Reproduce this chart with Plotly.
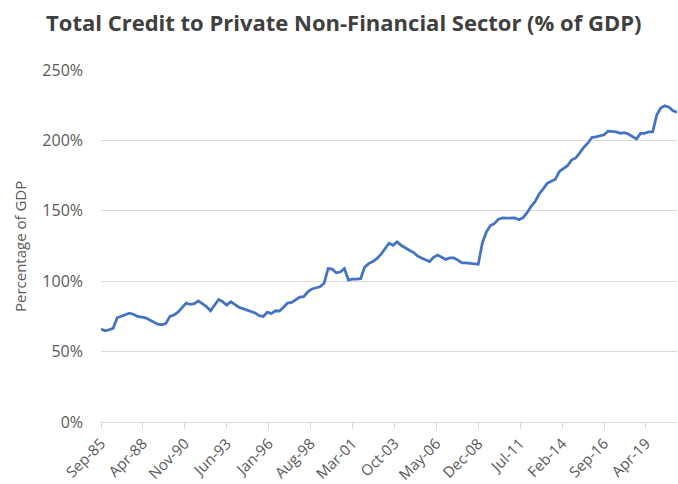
import pandas as pd
import plotly.graph_objects as go

title_text = "Total Credit to Private Non-Financial Sector (% of GDP)"
y_title = "Percentage of GDP"

# Quarterly observations starting Sep-1985
start_date = "1985-09-01"
credit_pct_gdp = [
    66, 64.8, 65.5, 66.5, 74, 75, 76, 77.3, 76.5, 75,
    74.5, 74, 72.5, 71, 69.5, 69, 70, 75, 76, 78,
    81.5, 84.5, 83.5, 84, 86, 84, 82, 79, 83.5, 87,
    85.5, 83, 85.5, 83.5, 81.5, 80.5, 79.5, 78.5, 77.5, 75.5,
    75, 78, 77, 79, 78.8, 81.5, 84.5, 85, 87, 88.7,
    89, 92.5, 94.5, 95.5, 96, 98.5, 109, 108.6, 106, 106.5,
    109, 100.8, 101.5, 101.5, 101.8, 110, 112.5, 114, 116, 119,
    123, 127, 125.5, 128, 125.5, 123.5, 122, 120.5, 118, 116.5,
    115, 114, 117, 118.5, 117, 115.5, 116.5, 116.5, 115, 113,
    113, 112.8, 112.2, 112, 127, 135, 139.5, 141, 144, 145,
    144.8, 144.8, 145, 143.7, 145, 148.5, 153, 156.5, 162, 165.5,
    169.5, 171, 172.5, 178, 180, 182, 186, 187.5, 191, 195,
    198, 202, 202.5, 203, 204, 206.5, 206.2, 206, 205, 205.5,
    204.5, 203, 201, 205, 205, 206, 206, 218, 223, 224.6,
    223.5, 221, 220,
]
dates = pd.date_range(start=start_date, periods=len(credit_pct_gdp), freq="3MS")

tick_dates = ["1985-09-01", "1988-04-01", "1990-11-01", "1993-06-01", "1996-01-01",
              "1998-08-01", "2001-03-01", "2003-10-01", "2006-05-01", "2008-12-01",
              "2011-07-01", "2014-02-01", "2016-09-01", "2019-04-01"]
tick_labels = ["Sep-85", "Apr-88", "Nov-90", "Jun-93", "Jan-96", "Aug-98", "Mar-01",
               "Oct-03", "May-06", "Dec-08", "Jul-11", "Feb-14", "Sep-16", "Apr-19"]

fig = go.Figure()
fig.add_trace(go.Scatter(
    x=dates, y=credit_pct_gdp, mode="lines",
    line=dict(color="#4472C4", width=2.75),
    showlegend=False,
))

font_family = "Open Sans"
fig.update_layout(
    width=678, height=484,
    margin=dict(l=101, r=1, t=70, b=62, autoexpand=False),
    paper_bgcolor="white", plot_bgcolor="white",
    font=dict(family=font_family, color="#595959"),
    title=dict(text="<b>" + title_text + "</b>", x=0.507, xanchor="center",
               y=1 - 23 / 484, yanchor="middle", yref="container",
               font=dict(size=22, color="#404040", family=font_family)),
    xaxis=dict(
        type="date", automargin=False,
        range=["1985-09-01", "2021-03-01"],
        tickvals=tick_dates, ticktext=tick_labels,
        tickangle=-45, tickfont=dict(size=15, color="#595959"),
        ticks="outside", ticklen=6, tickcolor="#d9d9d9", tickwidth=1,
        showline=True, linecolor="#d9d9d9", linewidth=1,
        showgrid=False, zeroline=False,
    ),
    yaxis=dict(
        automargin=False,
        range=[0, 250], dtick=50, ticksuffix="%",
        tickfont=dict(size=16, color="#595959"),
        showgrid=True, gridcolor="#d9d9d9", gridwidth=1,
        zeroline=False, showline=False,
        ticks="", ticklabelstandoff=17,
    ),
    annotations=[dict(
        text=y_title, textangle=-90, xref="paper", yref="paper",
        x=(20 - 101) / 576, y=0.497, xanchor="center", yanchor="middle",
        showarrow=False, font=dict(size=15, color="#595959", family=font_family),
    )],
)

fig.write_html("out.html")
